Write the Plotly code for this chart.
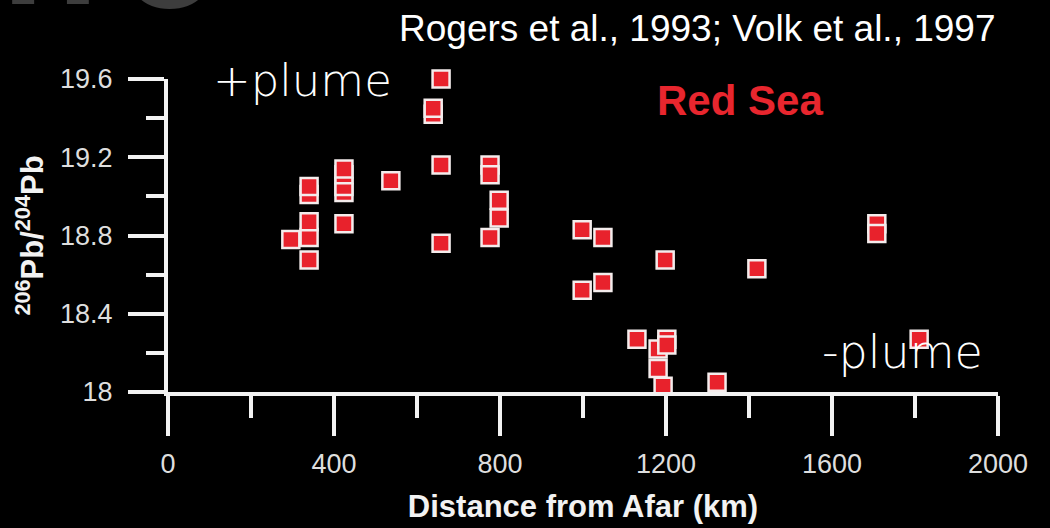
import plotly.graph_objects as go

# ---- data ----
distance_km = [296, 340, 340, 340, 340, 340, 424, 424, 424, 424, 424, 537,
               639, 639, 658, 658, 658, 776, 776, 776, 798, 798, 998, 998,
               1048, 1048, 1130, 1181, 1181, 1193, 1202, 1202, 1198, 1323,
               1419, 1708, 1708, 1810]
pb206_204 = [18.78, 18.675, 18.79, 18.87, 19.01, 19.05, 18.86, 19.02, 19.05,
             19.11, 19.14, 19.08, 19.42, 19.45, 19.60, 19.16, 18.76, 19.16,
             19.11, 18.79, 18.98, 18.89, 18.83, 18.52, 18.79, 18.56, 18.27,
             18.22, 18.12, 18.03, 18.27, 18.24, 18.675, 18.05, 18.63, 18.86,
             18.81, 18.27]

x_major_ticks = [0, 400, 800, 1200, 1600, 2000]
x_major_labels = ["0", "400", "800", "1200", "1600", "2000"]
x_minor_ticks = [200, 600, 1000, 1400, 1800]
y_major_ticks = [18.0, 18.4, 18.8, 19.2, 19.6]
y_major_labels = ["18", "18.4", "18.8", "19.2", "19.6"]
y_minor_ticks = [18.2, 18.6, 19.0, 19.4]

# ---- layout geometry (pixels) ----
W, H = 1050, 528
L, R, T, B = 168, 52, 79, 136
PW, PH = W - L - R, H - T - B


def px(x):
    return (x - L) / PW


def py(y):
    return (H - B - y) / PH


fig = go.Figure()
fig.add_trace(go.Scatter(
    x=distance_km, y=pb206_204, mode="markers",
    marker=dict(symbol="square", size=17, color="#e8222c",
                line=dict(color="#f4ecec", width=2.5)),
    cliponaxis=False, showlegend=False, hoverinfo="x+y",
))

axis_color = "#f2f2f2"
tick_font = dict(family="Liberation Sans, Arial, sans-serif", size=27, color="#dedede")
thin_font = "DejaVu Sans, Lato, sans-serif"

fig.update_xaxes(
    range=[0, 2000], showgrid=False, zeroline=False,
    showline=True, linecolor=axis_color, linewidth=4,
    ticks="outside", ticklen=40, tickwidth=4, tickcolor=axis_color,
    tickvals=x_major_ticks, ticktext=x_major_labels, tickfont=tick_font,
    ticklabelstandoff=5,
    minor=dict(tickvals=x_minor_ticks, ticks="outside", ticklen=22,
               tickwidth=4, tickcolor=axis_color, showgrid=False),
    title=dict(text="Distance from Afar (km)", standoff=18,
               font=dict(family="Liberation Sans, Arial, sans-serif", size=31,
                         color="#f2f2f2", weight="bold")),
)
fig.update_yaxes(
    range=[18, 19.6], showgrid=False, zeroline=False,
    showline=True, linecolor=axis_color, linewidth=4,
    ticks="outside", ticklen=36, tickwidth=4, tickcolor=axis_color,
    tickvals=y_major_ticks, ticktext=y_major_labels, tickfont=tick_font,
    ticklabelstandoff=10,
    minor=dict(tickvals=y_minor_ticks, ticks="outside", ticklen=18,
               tickwidth=4, tickcolor=axis_color, showgrid=False),
    title=dict(text="<sup>206</sup>Pb/<sup>204</sup>Pb", standoff=8,
               font=dict(family="Liberation Sans, Arial, sans-serif", size=31,
                         color="#f2f2f2", weight="bold")),
)

ann = []
# big grey title fragment cut off at the top edge
ann.append(dict(text="n", x=px(50), y=py(8), xref="paper", yref="paper",
                xanchor="center", yanchor="bottom", showarrow=False, yshift=-32,
                font=dict(family="Liberation Sans, Arial", size=160, color="#3d3d3d",
                          weight="bold")))
ann.append(dict(text="o", x=px(170), y=py(11), xref="paper", yref="paper",
                xanchor="center", yanchor="bottom", showarrow=False, yshift=-32,
                font=dict(family="Liberation Sans, Arial", size=160, color="#3d3d3d",
                          weight="bold")))
ann.append(dict(text="Rogers et al., 1993; Volk et al., 1997", x=px(697), y=py(29),
                xref="paper", yref="paper", xanchor="center", yanchor="middle",
                showarrow=False,
                font=dict(family="Liberation Sans, Arial", size=37, color="#ffffff")))
ann.append(dict(text="+plume", x=px(302), y=py(80), xref="paper", yref="paper",
                xanchor="center", yanchor="middle", showarrow=False,
                font=dict(family=thin_font, size=45, color="#ffffff", weight=200)))
ann.append(dict(text="-plume", x=px(902), y=py(352), xref="paper", yref="paper",
                xanchor="center", yanchor="middle", showarrow=False,
                font=dict(family=thin_font, size=46, color="#ffffff", weight=200)))
ann.append(dict(text="Red Sea", x=px(740), y=py(100), xref="paper", yref="paper",
                xanchor="center", yanchor="middle", showarrow=False,
                font=dict(family="Liberation Sans, Arial", size=42,
                          color="#e8262e", weight="bold")))

fig.update_layout(
    width=W, height=H, margin=dict(l=L, r=R, t=T, b=B, autoexpand=False),
    paper_bgcolor="#000000", plot_bgcolor="#000000",
    annotations=ann,
)
fig.update_xaxes(automargin=False)
fig.update_yaxes(automargin=False)

fig.write_html("out.html")
